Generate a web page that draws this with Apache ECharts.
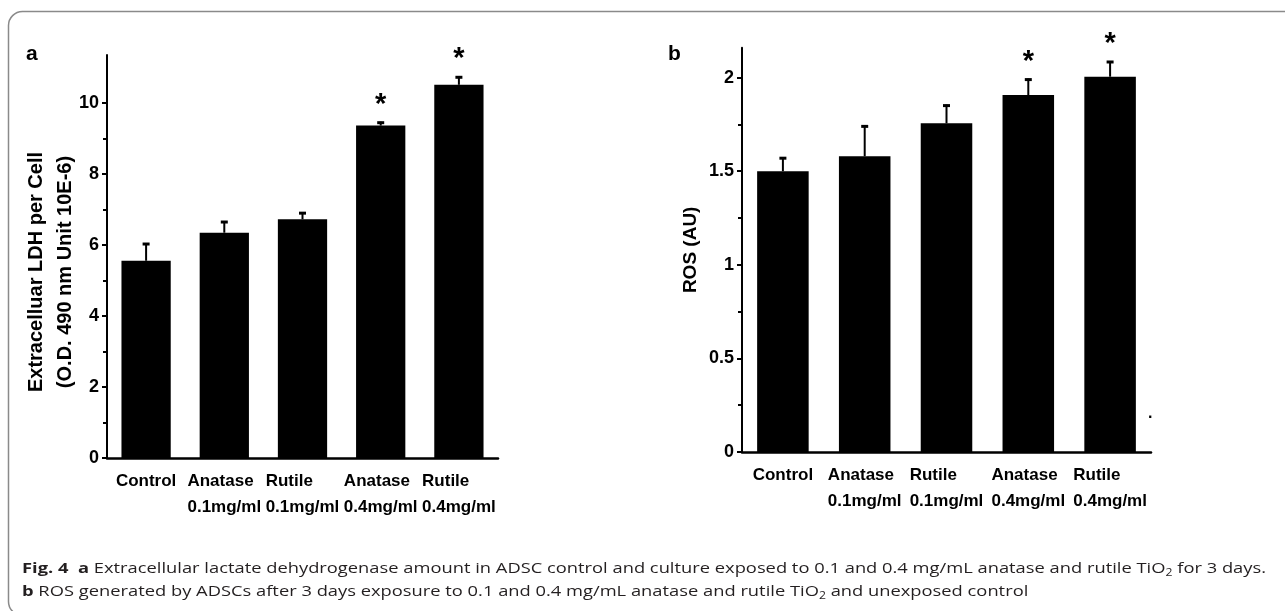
<!DOCTYPE html>
<html>
<head>
<meta charset="utf-8">
<script src="https://cdn.jsdelivr.net/npm/echarts@6/dist/echarts.min.js"></script>
<style>
  html, body { margin: 0; padding: 0; background: #fff; }
  #wrap { position: relative; width: 1285px; height: 611px; overflow: hidden; }
  #chart { position: absolute; left: 0; top: 0; width: 1285px; height: 611px; }
  #caption { position: absolute; left: 22px; top: 556px; font-family: "Open Sans", "Noto Sans", sans-serif; font-size: 15px; line-height: 23px; color: #231f20; white-space: nowrap; transform-origin: 0 0; }
  #caption b { font-weight: 700; }
  #caption sub { font-size: 10px; line-height: 0; vertical-align: -3px; }
</style>
</head>
<body>
<div id="wrap">
  <div id="chart"></div>
  <div id="caption">
    <div id="cap1"><b>Fig. 4</b>&nbsp; <b>a</b> Extracellular lactate dehydrogenase amount in ADSC control and culture exposed to 0.1 and 0.4 mg/mL anatase and rutile TiO<sub>2</sub> for 3 days.</div>
    <div id="cap2"><b>b</b> ROS generated by ADSCs after 3 days exposure to 0.1 and 0.4 mg/mL anatase and rutile TiO<sub>2</sub> and unexposed control</div>
  </div>
</div>
<script>
// ---- data ----
const categories = ['Control', 'Anatase\n0.1mg/ml', 'Rutile\n0.1mg/ml', 'Anatase\n0.4mg/ml', 'Rutile\n0.4mg/ml'];
const ldhMeans  = [5.56, 6.35, 6.73, 9.37, 10.52];
const ldhErrors = [0.50, 0.33, 0.20, 0.11, 0.24];
const rosMeans  = [1.50, 1.58, 1.756, 1.907, 2.005];
const rosErrors = [0.075, 0.165, 0.10, 0.088, 0.084];
const significance = ['', '', '', '*', '*'];
const ldhTickLabels = [0, 2, 4, 6, 8, 10];
const rosTickLabels = [0, 0.5, 1, 1.5, 2];
const ldhAxisTop = 11.36;
const rosAxisTop = 2.16;
const ldhTitle = ['Extracelluar LDH per Cell', '(O.D. 490 nm Unit 10E-6)'];
const rosTitle = 'ROS (AU)';

const SANS = '"Liberation Sans", Arial, sans-serif';

const chart = echarts.init(document.getElementById('chart'), null, { renderer: 'canvas' });

const gridA = { left: 107, right: 787, bottom: 153 };
const gridB = { left: 742, right: 134, bottom: 159 };

function xLabel() {
  return {
    interval: 0,
    margin: 10,
    color: '#000',
    formatter: v => v.split('\n').map(s => '{l|' + s + '}').join('\n'),
    rich: { l: { align: 'left', fontFamily: SANS, fontWeight: 'bold', fontSize: 17, lineHeight: 26, color: '#000' } }
  };
}

function errRender(sig) {
  return function (params, api) {
    const i = api.value(0), m = api.value(1), e = api.value(2);
    const b = api.coord([i, m]);
    const t = api.coord([i, m + e]);
    const s = sig[params.dataIndex];
    return {
      type: 'group',
      children: [
        { type: 'line', shape: { x1: b[0], y1: b[1], x2: t[0], y2: t[1] }, style: { stroke: '#000', lineWidth: 2 } },
        { type: 'line', shape: { x1: t[0] - 3.5, y1: t[1] + 1, x2: t[0] + 3.5, y2: t[1] + 1 }, style: { stroke: '#000', lineWidth: 3 } },
        { type: 'text', style: { text: s, x: t[0], y: t[1] - 17, fill: '#000', font: 'bold 29px ' + SANS, align: 'center', verticalAlign: 'middle' } }
      ]
    };
  };
}

const tickAxisCommon = (labels) => ({
  type: 'value', min: labels[0], max: labels[labels.length - 1], interval: labels[1] - labels[0],
  axisLine: { show: false },
  axisTick: { show: true, length: 5, inside: false, lineStyle: { color: '#000', width: 2 } },
  minorTick: { show: true, splitNumber: 2, length: 4, lineStyle: { color: '#000', width: 2 } },
  splitLine: { show: false },
  axisLabel: { margin: 8, color: '#000', fontFamily: SANS, fontWeight: 'bold', fontSize: 18 }
});

const option = {
  animation: false,
  backgroundColor: '#fff',
  grid: [
    { left: gridA.left, right: gridA.right, bottom: gridA.bottom, top: 55 },
    { left: gridA.left, right: gridA.right, bottom: gridA.bottom, top: 611 - gridA.bottom - (611 - gridA.bottom - 55) * ldhTickLabels[ldhTickLabels.length - 1] / ldhAxisTop },
    { left: gridB.left, right: gridB.right, bottom: gridB.bottom, top: 47.7 },
    { left: gridB.left, right: gridB.right, bottom: gridB.bottom, top: 611 - gridB.bottom - (611 - gridB.bottom - 47.7) * rosTickLabels[rosTickLabels.length - 1] / rosAxisTop }
  ],
  xAxis: [
    { gridIndex: 0, type: 'category', data: categories, axisTick: { show: false }, axisLine: { lineStyle: { color: '#000', width: 2.5 } }, axisLabel: xLabel() },
    { gridIndex: 1, type: 'category', data: categories, show: false },
    { gridIndex: 2, type: 'category', data: categories, axisTick: { show: false }, axisLine: { lineStyle: { color: '#000', width: 2.5 } }, axisLabel: xLabel() },
    { gridIndex: 3, type: 'category', data: categories, show: false }
  ],
  yAxis: [
    { gridIndex: 0, type: 'value', min: 0, max: ldhAxisTop, axisLine: { show: true, lineStyle: { color: '#000', width: 2 } }, axisTick: { show: false }, axisLabel: { show: false }, splitLine: { show: false } },
    Object.assign({ gridIndex: 1 }, tickAxisCommon(ldhTickLabels)),
    { gridIndex: 2, type: 'value', min: 0, max: rosAxisTop, axisLine: { show: true, lineStyle: { color: '#000', width: 2 } }, axisTick: { show: false }, axisLabel: { show: false }, splitLine: { show: false },
      name: rosTitle, nameLocation: 'middle', nameRotate: 90, nameGap: 42,
      nameTextStyle: { fontFamily: SANS, fontWeight: 'bold', fontSize: 19, color: '#000' } },
    Object.assign({ gridIndex: 3 }, tickAxisCommon(rosTickLabels))
  ],
  series: [
    { type: 'bar', xAxisIndex: 0, yAxisIndex: 0, data: ldhMeans, barWidth: '63%', itemStyle: { color: '#000' }, z: 2 },
    { type: 'custom', xAxisIndex: 0, yAxisIndex: 0, z: 3, renderItem: errRender(significance),
      encode: { x: 0, y: 1 }, data: ldhMeans.map((m, i) => [i, m, ldhErrors[i]]) },
    { type: 'bar', xAxisIndex: 2, yAxisIndex: 2, data: rosMeans, barWidth: '63%', itemStyle: { color: '#000' }, z: 2 },
    { type: 'custom', xAxisIndex: 2, yAxisIndex: 2, z: 3, renderItem: errRender(significance),
      encode: { x: 0, y: 1 }, data: rosMeans.map((m, i) => [i, m, rosErrors[i]]) }
  ],
  graphic: [
    { type: 'rect', silent: true, shape: { x: 8.5, y: 11.5, width: 1400, height: 604, r: 14 }, style: { fill: 'none', stroke: '#8a8a8a', lineWidth: 1.5 } },
    { type: 'text', left: 26, top: 44, style: { text: 'a', font: 'bold 21px ' + SANS, fill: '#000' } },
    { type: 'text', left: 668, top: 44, style: { text: 'b', font: 'bold 21px ' + SANS, fill: '#000' } },
    { type: 'text', x: 36, y: 272, rotation: Math.PI / 2, style: { text: ldhTitle[0], font: 'bold 20px ' + SANS, fill: '#000', align: 'center', verticalAlign: 'middle' } },
    { type: 'text', x: 65, y: 272, rotation: Math.PI / 2, style: { text: ldhTitle[1], font: 'bold 20px ' + SANS, fill: '#000', align: 'center', verticalAlign: 'middle' } },
    { type: 'text', left: 1148, top: 406, style: { text: '.', font: 'bold 16px ' + SANS, fill: '#000' } }
  ]
};
chart.setOption(option);

// fit caption width to the reference line length
(function () {
  const cap = document.getElementById('caption');
  const l1 = document.getElementById('cap1');
  const r = document.createRange(); r.selectNodeContents(l1);
  const w = r.getBoundingClientRect().width;
  const target = 1244;
  cap.style.transform = 'scaleX(' + (target / w) + ')';
})();
</script>
</body>
</html>
